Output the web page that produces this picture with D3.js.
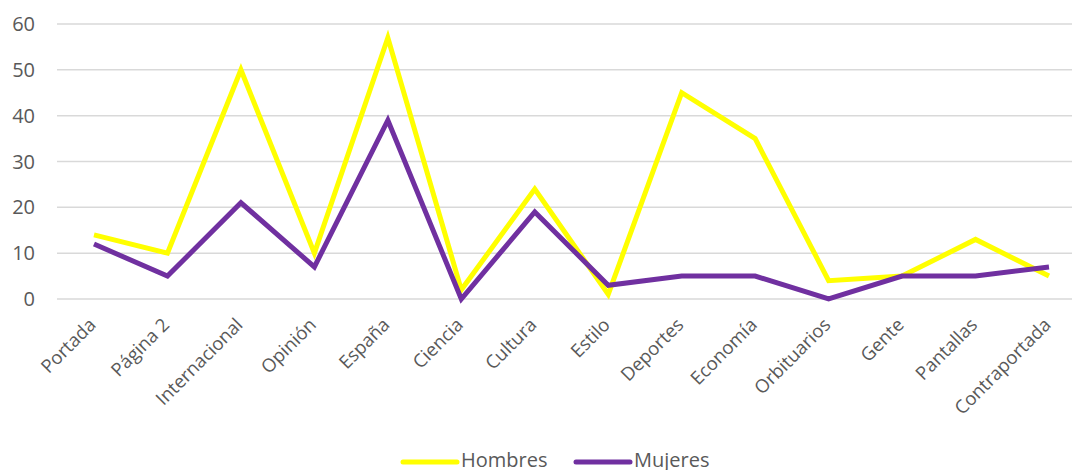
<!DOCTYPE html>
<html>
<head>
<meta charset="utf-8">
<script src="https://cdn.jsdelivr.net/npm/d3@7"></script>
<style>
  body { margin: 0; background: #fff; overflow: hidden; }
  text { font-family: "Open Sans", sans-serif; fill: #595959; }
</style>
</head>
<body>
<svg id="mainsvg" width="1072" height="470"></svg>
<script>
// data
const categories = ["Portada", "Página 2", "Internacional", "Opinión", "España", "Ciencia", "Cultura",
  "Estilo", "Deportes", "Economía", "Orbituarios", "Gente", "Pantallas", "Contraportada"];
const hombres = [14, 10, 50, 10, 57, 2, 24, 1, 45, 35, 4, 5, 13, 5];
const mujeres = [12, 5, 21, 7, 39, 0, 19, 3, 5, 5, 0, 5, 5, 7];
const yTicks = [0, 10, 20, 30, 40, 50, 60];
const seriesNames = ["Hombres", "Mujeres"];
const colors = ["#FFFF00", "#7030A0"];

const svg = d3.select('#mainsvg');

// 比例尺
const x = d3.scalePoint().domain(categories).range([94, 1049]);
const y = d3.scaleLinear().domain([0, 60]).range([299, 24]);

// 网格线
svg.append("g")
  .selectAll("line")
  .data(yTicks)
  .join("line")
  .attr("x1", 57)
  .attr("x2", 1086)
  .attr("y1", d => y(d))
  .attr("y2", d => y(d))
  .attr("stroke", "#D9D9D9")
  .attr("stroke-width", 1.5);

// y 轴标签
svg.append("g")
  .selectAll("text")
  .data(yTicks)
  .join("text")
  .attr("x", 35)
  .attr("y", d => y(d))
  .attr("dy", "0.35em")
  .attr("text-anchor", "end")
  .attr("font-size", 20)
  .text(d => d);

// x 轴标签 (旋转 -45)
svg.append("g")
  .selectAll("text")
  .data(categories)
  .join("text")
  .attr("transform", d => `translate(${x(d) + 3},${326}) rotate(-45)`)
  .attr("text-anchor", "end")
  .attr("font-size", 18.5)
  .text(d => d);

// 折线
const line = d3.line()
  .x((d, i) => x(categories[i]))
  .y(d => y(d));

svg.append("g")
  .selectAll("path")
  .data([hombres, mujeres])
  .join("path")
  .attr("d", d => line(d))
  .attr("fill", "none")
  .attr("stroke", (d, i) => colors[i])
  .attr("stroke-width", 5)
  .attr("stroke-linejoin", "miter");

// 图例
const legend = svg.append("g")
  .selectAll("g")
  .data(seriesNames)
  .join("g")
  .attr("transform", (d, i) => `translate(${i === 0 ? 403 : 576},462)`);

legend.append("line")
  .attr("x1", 0)
  .attr("x2", 54)
  .attr("stroke", (d, i) => colors[i])
  .attr("stroke-width", 5)
  .attr("stroke-linecap", "round");

legend.append("text")
  .attr("x", 58)
  .attr("y", 5)
  .attr("font-size", 20)
  .text(d => d);
</script>
</body>
</html>
